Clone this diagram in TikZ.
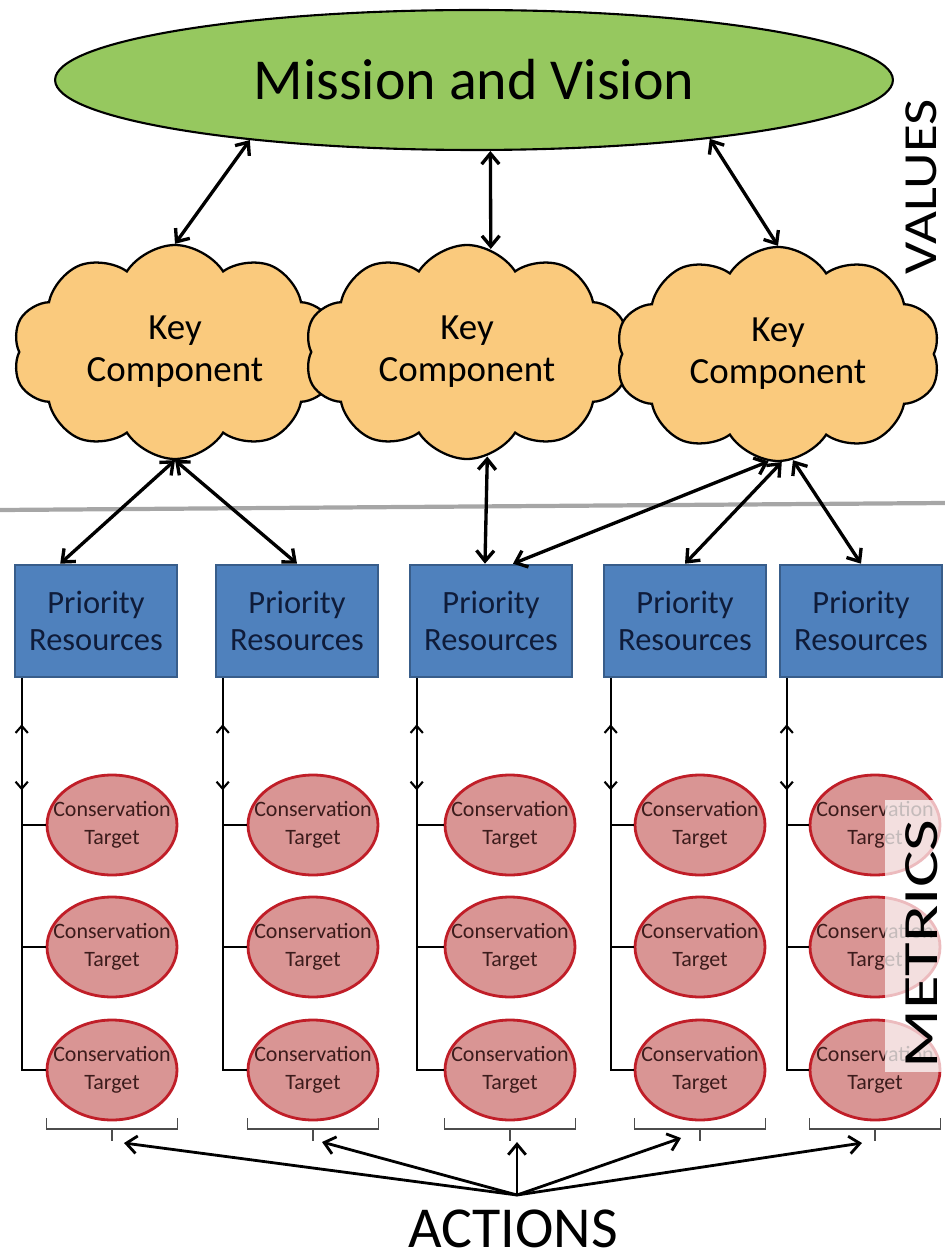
\documentclass[tikz,border=0pt]{standalone}
\usepackage{fontspec}
\setmainfont{Carlito}
\usepackage{tikz}
\usetikzlibrary{calc,positioning,shapes,arrows.meta}

\definecolor{mvgreen}{RGB}{150,200,95}
\definecolor{kcorange}{RGB}{250,202,125}
\definecolor{prblue}{RGB}{79,129,189}
\definecolor{prborder}{RGB}{56,93,138}
\definecolor{prtext}{RGB}{15,28,58}
\definecolor{ctred}{RGB}{217,149,148}
\definecolor{ctborder}{RGB}{192,30,40}
\definecolor{cttext}{RGB}{60,28,28}

\begin{document}
\begin{tikzpicture}[x=0.02cm, y=-0.02cm, >={Straight Barb[length=6pt,width=10pt]},
  goal/.style={draw, ellipse, fill=mvgreen, line width=1.2pt, minimum width=16.76cm, minimum height=2.8cm, font=\fontsize{33}{36}\selectfont},
  keyc/.style={draw, cloud, cloud puffs=10, cloud puff arc=115, aspect=1.5, fill=kcorange, line width=1.3pt, minimum width=6.5cm, minimum height=4.1cm, align=center, font=\fontsize{21}{24}\selectfont},
  prio/.style={draw=prborder, fill=prblue, line width=1.5pt, minimum width=3.24cm, minimum height=2.24cm, align=center, text=prtext, font=\fontsize{18.5}{21}\selectfont},
  target/.style={draw=ctborder, fill=ctred, ellipse, line width=1.6pt, minimum width=2.6cm, minimum height=2cm, inner xsep=-0.28cm, inner ysep=0pt, align=center, text=cttext, font=\fontsize{12.5}{16}\selectfont},
  link/.style={<->, line width=1.9pt},
  updown/.style={<->, line width=1.2pt, >={Straight Barb[length=4pt,width=7pt]}},
  tie/.style={line width=1pt},
  brace/.style={line width=0.6pt, black!70},
  push/.style={->, line width=1.6pt},
  side/.style={rotate=90, transform shape, inner sep=0pt, font=\fontsize{27}{30}\selectfont}]
\useasboundingbox (0,0) rectangle (945,1260);

% divider
\draw[line width=2.4pt, black!35] (0,510) -- (945,503);

\node[goal] (mv) at (474,80) {Mission and Vision};
\node[side, xscale=1.2] (values) at (921,187) {VALUES};

\node[keyc] (k1) at (175,352) {Key\\Component};
\node[keyc] (k2) at (467,352) {Key\\Component};
\node[keyc] (k3) at (778,354) {Key\\Component};

\draw[link] (mv.195) -- (k1.north);
\draw[link] (mv.283) -- (k2.77);
\draw[link] (mv.346) -- (k3.north);

\node[prio] (p1) at (96,621) {Priority\\Resources};
\node[prio] (p2) at (297,621) {Priority\\Resources};
\node[prio] (p3) at (491,621) {Priority\\Resources};
\node[prio] (p4) at (685,621) {Priority\\Resources};
\node[prio] (p5) at (861,621) {Priority\\Resources};

\draw[link] (k1.south) -- (p1.122);
\draw[link] (k1.south) -- (p2.north);
\draw[link] (k2.281) -- (p3.96);
\draw[link] (k3.265) -- (p3.69);
\draw[link] (k3.272) -- (p4.north);
\draw[link] (k3.278) -- (p5.north);

% conservation targets
\node[target] (t11) at (112,825) {Conservation\\Target};
\node[target] (t12) at (112,947) {Conservation\\Target};
\node[target] (t13) at (112,1070) {Conservation\\Target};
\node[target] (t21) at (313,825) {Conservation\\Target};
\node[target] (t22) at (313,947) {Conservation\\Target};
\node[target] (t23) at (313,1070) {Conservation\\Target};
\node[target] (t31) at (510,825) {Conservation\\Target};
\node[target] (t32) at (510,947) {Conservation\\Target};
\node[target] (t33) at (510,1070) {Conservation\\Target};
\node[target] (t41) at (700,825) {Conservation\\Target};
\node[target] (t42) at (700,947) {Conservation\\Target};
\node[target] (t43) at (700,1070) {Conservation\\Target};
\node[target] (t51) at (875,825) {Conservation\\Target};
\node[target] (t52) at (875,947) {Conservation\\Target};
\node[target] (t53) at (875,1070) {Conservation\\Target};

\coordinate (l1) at ($(p1.south west)+(8,0)$);
\coordinate (l2) at ($(p2.south west)+(8,0)$);
\coordinate (l3) at ($(p3.south west)+(8,0)$);
\coordinate (l4) at ($(p4.south west)+(8,0)$);
\coordinate (l5) at ($(p5.south west)+(8,0)$);

\draw[tie] (l1) |- (t13.west); \draw[tie] (t11.west) -- (t11.west -| l1); \draw[tie] (t12.west) -- (t12.west -| l1);
\draw[tie] (l2) |- (t23.west); \draw[tie] (t21.west) -- (t21.west -| l2); \draw[tie] (t22.west) -- (t22.west -| l2);
\draw[tie] (l3) |- (t33.west); \draw[tie] (t31.west) -- (t31.west -| l3); \draw[tie] (t32.west) -- (t32.west -| l3);
\draw[tie] (l4) |- (t43.west); \draw[tie] (t41.west) -- (t41.west -| l4); \draw[tie] (t42.west) -- (t42.west -| l4);
\draw[tie] (l5) |- (t53.west); \draw[tie] (t51.west) -- (t51.west -| l5); \draw[tie] (t52.west) -- (t52.west -| l5);

\draw[updown] ($(l1)+(0,46)$) -- ($(l1)+(0,112)$);
\draw[updown] ($(l2)+(0,46)$) -- ($(l2)+(0,112)$);
\draw[updown] ($(l3)+(0,46)$) -- ($(l3)+(0,112)$);
\draw[updown] ($(l4)+(0,46)$) -- ($(l4)+(0,112)$);
\draw[updown] ($(l5)+(0,46)$) -- ($(l5)+(0,112)$);

\fill[white, opacity=0.7] (885,800) rectangle (945,1072);
\node[side, xscale=1.4, font=\fontsize{28}{30}\selectfont] (metrics) at (922,944) {METRICS};

% brackets under each column
\draw[brace] ($(t13.west)+(1,48)$) -- ++(0,11) -| ($(t13.east)+(-1,48)$); \draw[brace] ($(t13.south)+(0,9)$) -- ++(0,11);
\draw[brace] ($(t23.west)+(1,48)$) -- ++(0,11) -| ($(t23.east)+(-1,48)$); \draw[brace] ($(t23.south)+(0,9)$) -- ++(0,11);
\draw[brace] ($(t33.west)+(1,48)$) -- ++(0,11) -| ($(t33.east)+(-1,48)$); \draw[brace] ($(t33.south)+(0,9)$) -- ++(0,11);
\draw[brace] ($(t43.west)+(1,48)$) -- ++(0,11) -| ($(t43.east)+(-1,48)$); \draw[brace] ($(t43.south)+(0,9)$) -- ++(0,11);
\draw[brace] ($(t53.west)+(1,48)$) -- ++(0,11) -| ($(t53.east)+(-1,48)$); \draw[brace] ($(t53.south)+(0,9)$) -- ++(0,11);

\coordinate (act) at (517,1195);
\coordinate (a1) at (124,1143);
\coordinate (a2) at (322,1142);
\coordinate (a3) at (517,1142);
\coordinate (a4) at (681,1138);
\coordinate (a5) at (862,1143);
\draw[push] (act) -- (a1);
\draw[push] (act) -- (a2);
\draw[push] (act) -- (a3);
\draw[push] (act) -- (a4);
\draw[push] (act) -- (a5);

\node[font=\fontsize{33}{36}\selectfont] (actions) at (513,1229) {ACTIONS};
\end{tikzpicture}
\end{document}
